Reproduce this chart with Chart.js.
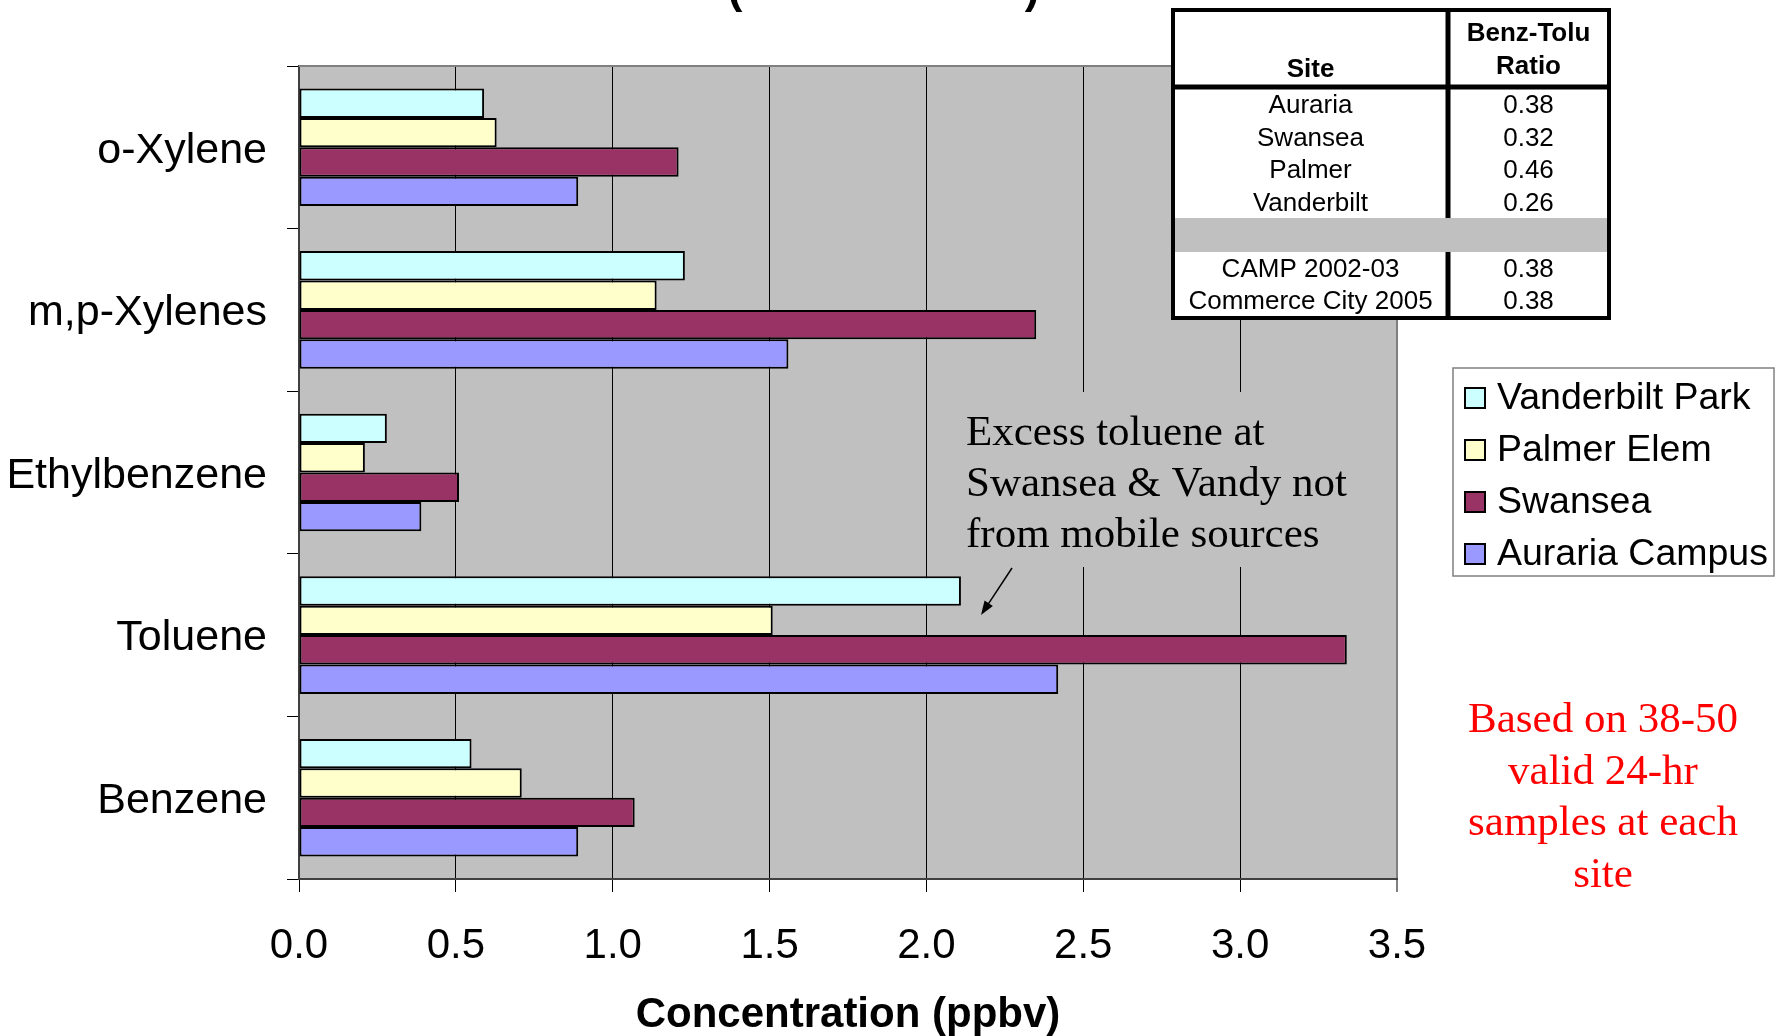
<!DOCTYPE html>
<html>
<head>
<meta charset="utf-8">
<title>VOC Concentrations</title>
<script src="https://cdn.jsdelivr.net/npm/chart.js@4.4.1/dist/chart.umd.min.js"></script>
<style>
  html, body { margin: 0; padding: 0; background: #fff; }
  canvas { display: block; }
</style>
</head>
<body>
<canvas id="vocChart" width="1776" height="1036"></canvas>
<script>
// compounds, top to bottom
const categories = ['o-Xylene', 'm,p-Xylenes', 'Ethylbenzene', 'Toluene', 'Benzene'];

// mean concentrations (ppbv) per site
const vanderbiltPark = [0.59, 1.23, 0.28, 2.11, 0.55];
const palmerElem     = [0.63, 1.14, 0.21, 1.51, 0.71];
const swansea        = [1.21, 2.35, 0.51, 3.34, 1.07];
const aurariaCampus  = [0.89, 1.56, 0.39, 2.42, 0.89];

const xTickLabels = ['0.0', '0.5', '1.0', '1.5', '2.0', '2.5', '3.0', '3.5'];

// benzene / toluene ratio table
const ratioSites  = ['Auraria', 'Swansea', 'Palmer', 'Vanderbilt'];
const ratioValues = ['0.38', '0.32', '0.46', '0.26'];
const refSites    = ['CAMP 2002-03', 'Commerce City 2005'];
const refValues   = ['0.38', '0.38'];

const SANS = "'Liberation Sans', Arial, Helvetica, sans-serif";
const SERIF = "'Liberation Serif', 'Times New Roman', Times, serif";
const PLOT_BG = '#C0C0C0';

// gray plot background + white page
const plotBackground = {
    id: 'plotBackground',
    beforeDraw(chart) {
        const { ctx, chartArea: a } = chart;
        ctx.save();
        ctx.fillStyle = '#fff';
        ctx.fillRect(0, 0, chart.width, chart.height);
        ctx.fillStyle = PLOT_BG;
        ctx.fillRect(a.left, a.top, a.right - a.left, a.bottom - a.top);
        ctx.restore();
    },
    beforeDatasetsDraw(chart) {
        const { ctx, chartArea: a } = chart;
        ctx.save();
        // top frame line
        ctx.strokeStyle = '#808080';
        ctx.lineWidth = 2;
        ctx.beginPath();
        ctx.moveTo(a.left, a.top);
        ctx.lineTo(a.right, a.top);
        ctx.stroke();

        // note box sits over the grid lines
        ctx.fillStyle = PLOT_BG;
        ctx.fillRect(955, 392, 428, 175);
        ctx.fillStyle = '#000';
        ctx.font = '43px ' + SERIF;
        ctx.textAlign = 'left';
        ctx.textBaseline = 'alphabetic';
        ctx.fillText('Excess toluene at', 966, 445);
        ctx.fillText('Swansea & Vandy not', 966, 496);
        ctx.fillText('from mobile sources', 966, 547);
        ctx.restore();
    }
};

const overlays = {
    id: 'overlays',
    afterDraw(chart) {
        const ctx = chart.ctx;
        ctx.save();

        // clipped heading fragment
        ctx.fillStyle = '#000';
        ctx.font = 'bold 44px ' + SANS;
        ctx.textAlign = 'center';
        ctx.textBaseline = 'alphabetic';
        ctx.fillText('(', 735, 3);
        ctx.fillText(')', 1032, 3);

        // arrow pointing at the toluene bars
        const x0 = 1012, y0 = 568, x1 = 981, y1 = 615;
        const ang = Math.atan2(y1 - y0, x1 - x0);
        ctx.strokeStyle = '#000';
        ctx.lineWidth = 1.5;
        ctx.beginPath();
        ctx.moveTo(x0, y0);
        ctx.lineTo(x1 - 8 * Math.cos(ang), y1 - 8 * Math.sin(ang));
        ctx.stroke();
        ctx.beginPath();
        ctx.moveTo(x1, y1);
        ctx.lineTo(x1 - 14 * Math.cos(ang) + 5 * Math.sin(ang), y1 - 14 * Math.sin(ang) - 5 * Math.cos(ang));
        ctx.lineTo(x1 - 14 * Math.cos(ang) - 5 * Math.sin(ang), y1 - 14 * Math.sin(ang) + 5 * Math.cos(ang));
        ctx.closePath();
        ctx.fill();

        // ratio table
        const tL = 1173, tR = 1609, tT = 10, tB = 318, colX = 1448, headY = 87;
        ctx.fillStyle = '#fff';
        ctx.fillRect(tL, tT, tR - tL, tB - tT);
        ctx.fillStyle = PLOT_BG;
        ctx.fillRect(tL, 218, tR - tL, 34);
        ctx.strokeStyle = '#000';
        ctx.lineWidth = 4;
        ctx.strokeRect(tL, tT, tR - tL, tB - tT);
        ctx.lineWidth = 5;
        ctx.beginPath();
        ctx.moveTo(tL, headY); ctx.lineTo(tR, headY);
        ctx.moveTo(colX, tT); ctx.lineTo(colX, 218);
        ctx.moveTo(colX, 252); ctx.lineTo(colX, tB);
        ctx.stroke();

        const siteX = (tL + colX) / 2, valX = (colX + tR) / 2;
        ctx.fillStyle = '#000';
        ctx.textAlign = 'center';
        ctx.font = 'bold 26px ' + SANS;
        ctx.fillText('Site', siteX, 77);
        ctx.fillText('Benz-Tolu', valX, 41);
        ctx.fillText('Ratio', valX, 74);
        ctx.font = '26px ' + SANS;
        ratioSites.forEach((s, i) => {
            const y = 113 + i * 32.7;
            ctx.fillText(s, siteX, y);
            ctx.fillText(ratioValues[i], valX, y);
        });
        refSites.forEach((s, i) => {
            const y = 277 + i * 32;
            ctx.fillText(s, siteX, y);
            ctx.fillText(refValues[i], valX, y);
        });

        // legend
        const lL = 1453, lT = 368, lW = 321, lH = 208;
        ctx.strokeStyle = '#808080';
        ctx.lineWidth = 1.5;
        ctx.strokeRect(lL, lT, lW, lH);
        ctx.font = '37.5px ' + SANS;
        ctx.textAlign = 'left';
        ctx.textBaseline = 'middle';
        chart.data.datasets.forEach((ds, i) => {
            const cy = 398 + i * 52;
            ctx.fillStyle = ds.backgroundColor;
            ctx.fillRect(1465, cy - 10, 20, 20);
            ctx.strokeStyle = '#000';
            ctx.lineWidth = 2;
            ctx.strokeRect(1465, cy - 10, 20, 20);
            ctx.fillStyle = '#000';
            ctx.fillText(ds.label, 1497, cy + 1);
        });

        // sample note
        ctx.fillStyle = '#FF0000';
        ctx.font = '43px ' + SERIF;
        ctx.textAlign = 'center';
        ctx.textBaseline = 'alphabetic';
        ['Based on 38-50', 'valid 24-hr', 'samples at each', 'site'].forEach((t, i) => {
            ctx.fillText(t, 1603, 732 + i * 51.5);
        });

        ctx.restore();
    }
};

function makeSeries(label, values, color) {
    return {
        label: label,
        data: values,
        backgroundColor: color,
        borderColor: '#000',
        borderWidth: 2,
        borderSkipped: false,
        categoryPercentage: 0.723,
        barPercentage: 1.0
    };
}

const data = {
    labels: categories,
    datasets: [
        makeSeries('Vanderbilt Park', vanderbiltPark, '#CCFFFF'),
        makeSeries('Palmer Elem', palmerElem, '#FFFFCC'),
        makeSeries('Swansea', swansea, '#993366'),
        makeSeries('Auraria Campus', aurariaCampus, '#9999FF')
    ]
};

const config = {
    type: 'bar',
    data: data,
    options: {
        indexAxis: 'y',
        responsive: false,
        animation: false,
        devicePixelRatio: 1,
        layout: {
            padding: { top: 66, right: 379, bottom: 0, left: 0 }
        },
        scales: {
            x: {
                min: 0,
                max: 3.5,
                ticks: {
                    stepSize: 0.5,
                    color: '#000',
                    padding: 29,
                    font: { family: SANS, size: 42 },
                    callback: function(value, index) {
                        return xTickLabels[index];
                    }
                },
                grid: {
                    color: function(c) {
                        return c.tick && c.tick.value === 3.5 ? '#808080' : '#000';
                    },
                    lineWidth: function(c) {
                        return c.tick && c.tick.value === 3.5 ? 2 : 1;
                    },
                    tickLength: 13
                },
                border: { color: '#404040', width: 2 },
                title: {
                    display: true,
                    text: 'Concentration (ppbv)',
                    color: '#000',
                    font: { family: SANS, size: 42, weight: 'bold', lineHeight: 1.0 },
                    padding: { top: 18, bottom: 0 }
                },
                afterFit: function(scale) { scale.height = 157; }
            },
            y: {
                ticks: {
                    color: '#000',
                    padding: 20,
                    labelOffset: 3.5,
                    font: { family: SANS, size: 43 }
                },
                grid: {
                    drawOnChartArea: false,
                    tickLength: 12,
                    color: '#000'
                },
                border: { color: '#404040', width: 2 },
                afterFit: function(scale) { scale.width = 299; }
            }
        },
        plugins: {
            legend: { display: false },
            tooltip: { enabled: false }
        }
    },
    plugins: [plotBackground, overlays]
};

new Chart(document.getElementById('vocChart'), config);
</script>
</body>
</html>
